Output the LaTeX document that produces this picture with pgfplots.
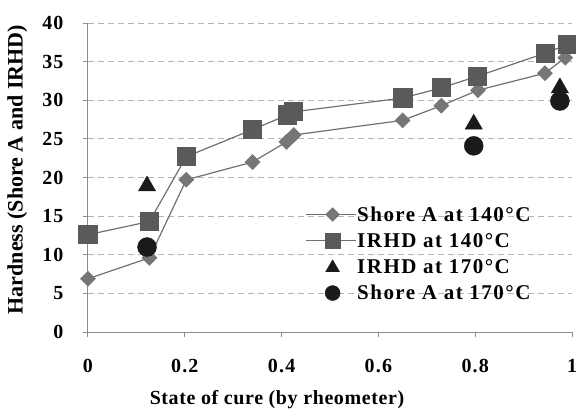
\documentclass[border=0pt]{standalone}
\usepackage{pgfplots}
\pgfplotsset{compat=1.18}
\usepackage{fontspec}
\setmainfont{Liberation Serif}
\newfontfamily\tickfont[LetterSpace=6]{Liberation Serif}
\newfontfamily\labfont[LetterSpace=3]{Liberation Serif}
\newfontfamily\legfont[LetterSpace=7]{Liberation Serif}

\definecolor{sqgray}{HTML}{5A5A5A}
\definecolor{dmgray}{HTML}{767676}
\definecolor{lngray}{HTML}{707070}
\definecolor{dark}{HTML}{1A1A1A}
\definecolor{axgray}{HTML}{8C8C8C}
\definecolor{grdgray}{HTML}{B4B4B4}

\begin{document}
\begin{tikzpicture}
\useasboundingbox (-88pt,-78pt) rectangle (488pt,332pt);
\begin{axis}[
  at={(0pt,0pt)}, anchor=south west,
  scale only axis, width=484pt, height=309pt,
  xmin=0, xmax=1, ymin=0, ymax=40,
  xtick={0,0.2,0.4,0.6,0.8,1},
  xticklabels={0,0.2,0.4,0.6,0.8,1},
  ytick={0,5,...,40},
  axis x line*=bottom, axis y line*=left,
  axis line style={axgray, line width=1pt, -},
  tick style={axgray, line width=1pt},
  tick align=outside,
  major tick length=5pt,
  ymajorgrids,
  grid style={grdgray, dashed, dash pattern=on 6pt off 4pt, line width=0.8pt},
  tick label style={font=\tickfont\fontsize{20}{23}\selectfont\bfseries},
  /pgf/number format/assume math mode=true,
  xticklabel style={yshift=-19pt},
  yticklabel style={xshift=-16pt},
  xlabel={State of cure (by rheometer)},
  ylabel={Hardness (Shore A and IRHD)},
  xlabel style={font=\labfont\fontsize{20}{23}\selectfont\bfseries,
    yshift=-10pt, xshift=-53pt},
  ylabel style={font=\fontsize{22}{25}\selectfont\bfseries, yshift=8pt, xshift=8pt},
  legend style={at={(0.448,0.41)}, anchor=north west, draw=none, fill=none,
    font=\legfont\fontsize{21}{24}\selectfont\bfseries, row sep=8.5pt,
    legend cell align=left, inner sep=0pt,
    nodes={inner sep=1pt},
    /tikz/every even column/.append style={column sep=6pt}},
  clip=false,
]
% Shore A hardness, cured at 140 C
\addplot[lngray, line width=1.2pt, mark=square*, mark size=5pt,
  mark options={rotate=45, fill=dmgray, draw=dmgray},
  legend image code/.code={
    \draw[lngray, line width=1.2pt] (0pt,0pt) -- (50pt,0pt);
    \draw[dmgray, fill=dmgray] plot[mark=square*, mark size=4.5pt,
      mark options={rotate=45}] coordinates {(27pt,0pt)};
  }] coordinates {
  (0,6.9) (0.127,9.6) (0.203,19.7) (0.34,22.0) (0.41,24.6) (0.425,25.5)
  (0.65,27.4) (0.73,29.3) (0.806,31.3) (0.944,33.5) (0.986,35.5)};
\addlegendentry{Shore A at 140°C}
% IRHD, cured at 140 C
\addplot[lngray, line width=1.2pt, mark=square*, mark size=9pt,
  mark options={fill=sqgray, draw=sqgray},
  legend image code/.code={
    \draw[lngray, line width=1.2pt] (0pt,0pt) -- (50pt,0pt);
    \draw[sqgray, fill=sqgray] plot[mark=square*, mark size=7.5pt]
      coordinates {(27pt,0pt)};
  }] coordinates {
  (0,12.6) (0.127,14.3) (0.203,22.7) (0.34,26.2) (0.412,28.1) (0.425,28.5)
  (0.651,30.3) (0.73,31.6) (0.804,33.1) (0.945,36.1) (0.99,37.2)};
\addlegendentry{IRHD at 140°C}
% IRHD, cured at 170 C
\addplot[only marks, mark=triangle*, mark size=10pt,
  mark options={fill=dark, draw=dark},
  legend image code/.code={
    \path[draw=none, fill=none] (0pt,0pt) rectangle (50pt,0pt);
    \draw[dark, fill=dark] plot[mark=triangle*, mark size=8pt]
      coordinates {(27pt,-1pt)};
  }] coordinates {
  (0.122,18.9) (0.797,26.9) (0.975,31.6)};
\addlegendentry{IRHD at 170°C}
% Shore A hardness, cured at 170 C
\addplot[only marks, mark=*, mark size=9.5pt,
  mark options={fill=dark, draw=dark},
  legend image code/.code={
    \path[draw=none, fill=none] (0pt,0pt) rectangle (50pt,0pt);
    \draw[dark, fill=dark] plot[mark=*, mark size=7.5pt]
      coordinates {(27pt,0pt)};
  }] coordinates {
  (0.122,11.0) (0.797,24.1) (0.975,29.9)};
\addlegendentry{Shore A at 170°C}
\end{axis}
\end{tikzpicture}
\end{document}
